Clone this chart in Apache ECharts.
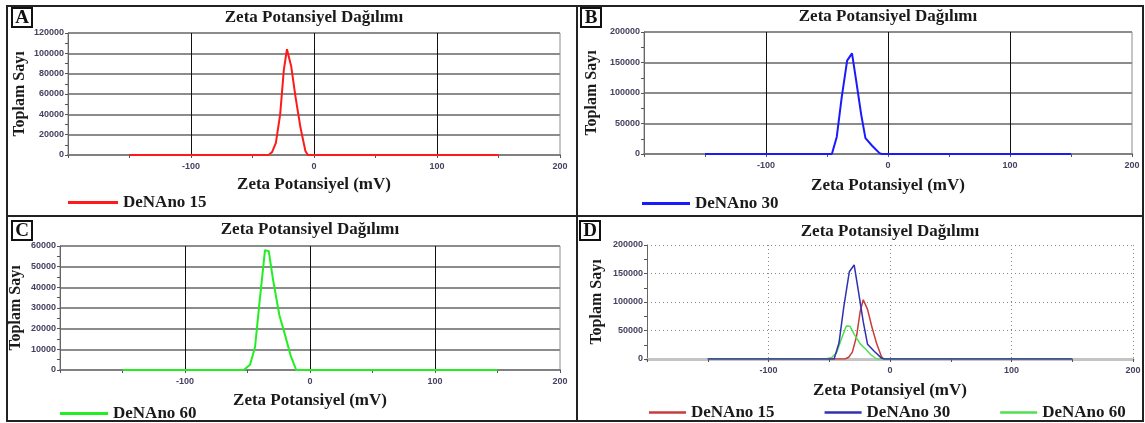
<!DOCTYPE html>
<html>
<head>
<meta charset="utf-8">
<title>Zeta Potansiyel Dağılımı</title>
<script src="https://cdn.jsdelivr.net/npm/echarts@6/dist/echarts.min.js"></script>
<style>
html, body { margin: 0; padding: 0; background: #fff; }
#chart { width: 1145px; height: 423px; }
</style>
</head>
<body>
<div id="chart"></div>
<script>
// zeta potential (mV) and total count
const zeta15 = [-150, -37, -34, -31, -27.5, -24.5, -22, -18.5, -15, -11, -7, -5, 150]
const count15 = [0, 0, 3000, 12000, 40000, 84000, 104000, 87000, 57000, 27000, 4000, 0, 0]

const zeta30 = [-150, -46, -42, -38, -33.5, -29.5, -26, -22, -18.5, -13, -7, -5, 150]
const count30 = [0, 0, 28000, 92000, 153000, 165000, 119000, 65000, 26000, 13500, 1500, 0, 0]

const zeta60 = [-150, -53, -48, -44, -40, -36, -33, -29.5, -24.5, -20, -15.5, -11, 150]
const count60 = [0, 0, 2500, 11000, 35000, 58000, 57500, 43500, 26500, 17000, 7000, 0, 0]

const names = ['DeNAno 15', 'DeNAno 30', 'DeNAno 60']
const xTicks = [-200, 200, 100]
const panelLetters = ['A', 'B', 'C', 'D']
const titleText = 'Zeta Potansiyel Dağılımı'
const xTitle = 'Zeta Potansiyel (mV)'
const yTitle = 'Toplam Sayı'

const zip = (xs, ys) => xs.map((x, i) => [x, ys[i]])

const serif = '"Liberation Serif", "Times New Roman", serif'
const labelColor = '#463f5e'

// layout of the four panels
const panels = [
  { grid: { left: 68, top: 33, width: 492, height: 122 }, yMax: 120000, yStep: 20000, dotted: false,
    titleY: 17, nameGapY: 40, nameGapX: 21, letter: [12, 8], legend: { left: 68, top: 194, width: 50 } },
  { grid: { left: 644, top: 32, width: 488, height: 122 }, yMax: 200000, yStep: 50000, dotted: false,
    titleY: 16, nameGapY: 44, nameGapX: 23, letter: [581, 8], legend: { left: 642, top: 195, width: 48 } },
  { grid: { left: 60, top: 246, width: 500, height: 124 }, yMax: 60000, yStep: 10000, dotted: false,
    titleY: 229, nameGapY: 36, nameGapX: 22, letter: [12, 221], legend: { left: 60, top: 405, width: 48 } },
  { grid: { left: 647, top: 245, width: 486, height: 114 }, yMax: 200000, yStep: 50000, dotted: true,
    titleY: 231, nameGapY: 42, nameGapX: 23, letter: [580, 221], legend: { left: 649, top: 404, width: 37 } }
]

const brightColors = ['#ff1a1a', '#1a1aff', '#22ee22']
const darkColors = ['#c83c3c', '#3030b0', '#50e050']

const grids = panels.map(p => Object.assign({
  show: !p.dotted,
  borderColor: '#8c8c8c',
  borderWidth: 1,
  containLabel: false
}, p.grid))

const xAxes = panels.map((p, i) => ({
  type: 'value',
  gridIndex: i,
  min: xTicks[0],
  max: xTicks[1],
  interval: xTicks[2],
  name: xTitle,
  nameLocation: 'middle',
  nameGap: p.nameGapX,
  nameTextStyle: { fontFamily: serif, fontWeight: 'bold', fontSize: 17, color: '#1a1a1a' },
  axisLine: { show: true, onZero: false, lineStyle: { color: p.dotted ? '#c4c4c4' : '#808080', width: p.dotted ? 3 : 2 } },
  axisTick: { show: true, length: 3, lineStyle: { color: '#555' } },
  minorTick: { show: true, splitNumber: 2, length: 3, lineStyle: { color: '#555' } },
  axisLabel: {
    showMinLabel: false,
    margin: 7,
    fontFamily: 'Liberation Sans, Arial, sans-serif',
    fontWeight: 'bold',
    fontSize: 9,
    color: labelColor
  },
  splitLine: {
    show: true,
    showMinLine: false,
    showMaxLine: p.dotted,
    lineStyle: p.dotted ? { color: '#8a8a8a', width: 1, type: [1, 3] } : { color: '#111', width: 1 }
  }
}))

const yAxes = panels.map((p, i) => ({
  type: 'value',
  gridIndex: i,
  min: 0,
  max: p.yMax,
  interval: p.yStep,
  name: yTitle,
  nameLocation: 'middle',
  nameRotate: 90,
  nameGap: p.nameGapY,
  nameTextStyle: { fontFamily: serif, fontWeight: 'bold', fontSize: 16, color: '#1a1a1a' },
  axisLine: { show: true, onZero: false, lineStyle: { color: '#666', width: 1 } },
  axisTick: { show: true, length: 3, lineStyle: { color: '#555' } },
  minorTick: { show: true, splitNumber: 2, length: 3, lineStyle: { color: '#555' } },
  axisLabel: {
    margin: 4,
    formatter: v => String(v),
    fontFamily: 'Liberation Sans, Arial, sans-serif',
    fontWeight: 'bold',
    fontSize: 9,
    color: labelColor
  },
  splitLine: {
    show: true,
    showMinLine: false,
    lineStyle: p.dotted ? { color: '#8a8a8a', width: 1, type: [1, 3] } : { color: '#8c8c8c', width: 2 }
  }
}))

const dataSets = [zip(zeta15, count15), zip(zeta30, count30), zip(zeta60, count60)]

const series = []
dataSets.forEach((d, i) => {
  series.push({
    name: names[i], type: 'line', xAxisIndex: i, yAxisIndex: i, data: d,
    symbol: 'none', animation: false, lineStyle: { color: brightColors[i], width: 2 }
  })
})
// panel D: all three together, blue on top
;[0, 2, 1].forEach(i => {
  series.push({
    name: names[i], type: 'line', xAxisIndex: 3, yAxisIndex: 3, data: dataSets[i],
    symbol: 'none', animation: false, lineStyle: { color: darkColors[i], width: 1.5 }
  })
})

const titles = panels.map(p => ({
  text: titleText,
  left: p.grid.left + p.grid.width / 2,
  top: p.titleY - 8,
  textAlign: 'center',
  padding: 0,
  textStyle: { fontFamily: serif, fontWeight: 'bold', fontSize: 17, color: '#1a1a1a' }
}))

// legend icon is a plain short bar, vertically centred on the text
const legendText = { fontFamily: serif, fontWeight: 'bold', fontSize: 17, color: '#1a1a1a' }
const legends = panels.slice(0, 3).map((p, i) => ({
  left: p.legend.left, top: p.legend.top,
  icon: 'rect', itemWidth: p.legend.width, itemHeight: 3, padding: 0,
  selectedMode: false,
  data: [{ name: names[i], itemStyle: { color: brightColors[i] } }],
  textStyle: legendText
}))
legends.push({
  left: panels[3].legend.left, top: panels[3].legend.top,
  icon: 'rect', itemWidth: panels[3].legend.width, itemHeight: 2.5, itemGap: 50, padding: 0,
  selectedMode: false,
  data: names.map((n, i) => ({ name: n, itemStyle: { color: darkColors[i] } })),
  textStyle: legendText
})

// frame lines and the panel letters
const graphic = [
  { type: 'rect', shape: { x: 7, y: 6, width: 1136, height: 415 }, style: { fill: null, stroke: '#222', lineWidth: 2 } },
  { type: 'line', shape: { x1: 577, y1: 6, x2: 577, y2: 421 }, style: { stroke: '#222', lineWidth: 2 } },
  { type: 'line', shape: { x1: 7, y1: 216, x2: 1143, y2: 216 }, style: { stroke: '#222', lineWidth: 2 } }
]
panels.forEach((p, i) => {
  graphic.push({ type: 'rect', shape: { x: p.letter[0], y: p.letter[1], width: 20, height: 19 }, style: { fill: '#fff', stroke: '#111', lineWidth: 2 } })
  graphic.push({ type: 'text', x: p.letter[0] + 10, y: p.letter[1] + 10, style: { text: panelLetters[i], fontFamily: serif, fontWeight: 'bold', fontSize: 19, fill: '#111', align: 'center', verticalAlign: 'middle' } })
})

const chart = echarts.init(document.getElementById('chart'))
chart.setOption({
  backgroundColor: '#ffffff',
  animation: false,
  title: titles,
  legend: legends,
  grid: grids,
  xAxis: xAxes,
  yAxis: yAxes,
  series: series,
  graphic: graphic
})
</script>
</body>
</html>
